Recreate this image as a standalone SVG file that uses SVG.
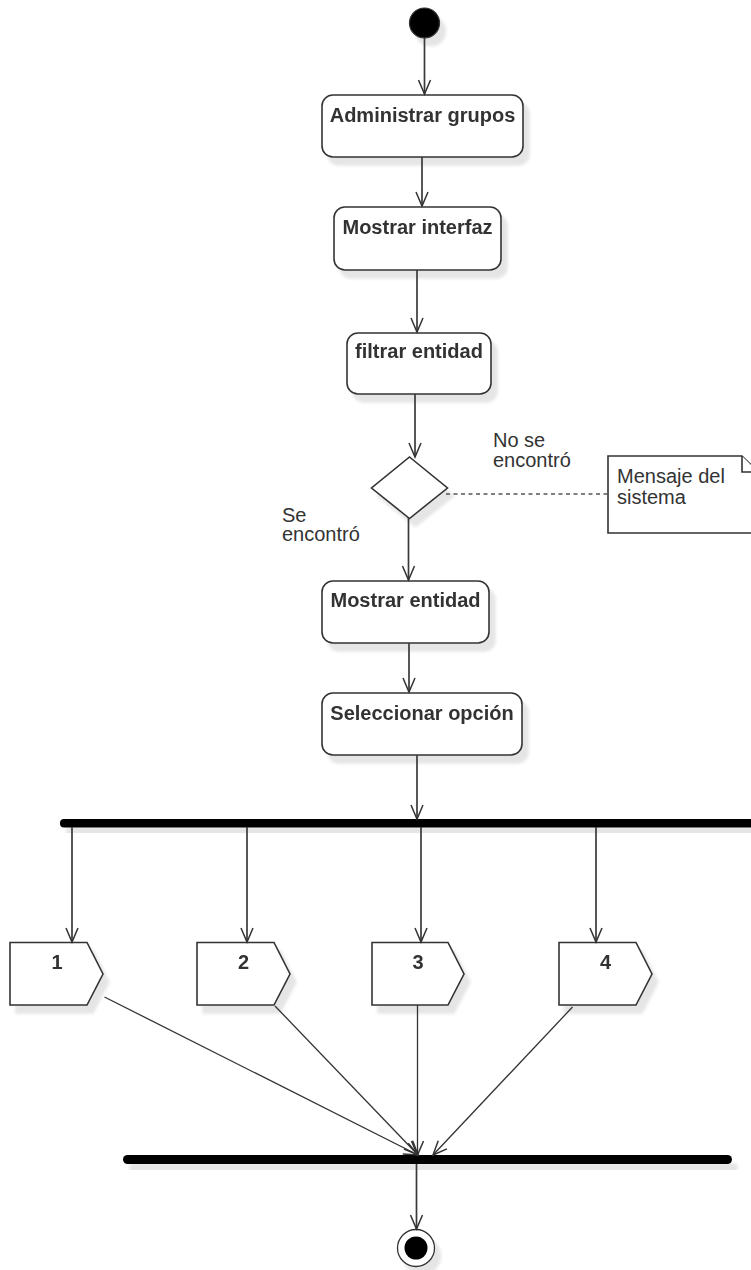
<svg xmlns="http://www.w3.org/2000/svg" width="751" height="1270" viewBox="0 0 751 1270">
  <style>
    .box { fill: #ffffff; stroke: #333333; stroke-width: 1.6; }
    .title { font-family: "Liberation Sans", Arial, sans-serif; font-size: 20px; font-weight: bold; fill: #333333; text-anchor: middle; }
    .label { font-family: "Liberation Sans", Arial, sans-serif; font-size: 20px; fill: #333333; }
    .flow { fill: none; stroke: #3a3a3a; stroke-width: 1.7; }
    .thin { fill: none; stroke: #333333; stroke-width: 1.3; }
    .bar { fill: #000000; }
  </style>
  <defs>
    <filter id="shadow" x="-20%" y="-20%" width="160%" height="180%">
      <feGaussianBlur in="SourceAlpha" stdDeviation="1.5" result="blur"/>
      <feOffset in="blur" dx="6" dy="8" result="off"/>
      <feFlood flood-color="#000000" flood-opacity="0.1"/>
      <feComposite in2="off" operator="in" result="shade"/>
      <feMerge>
        <feMergeNode in="shade"/>
        <feMergeNode in="SourceGraphic"/>
      </feMerge>
    </filter>
    <marker id="open" viewBox="-16 -8 18 16" refX="0" refY="0" markerWidth="18" markerHeight="16" markerUnits="userSpaceOnUse" orient="auto">
      <path d="M-14,-6 L0,0 L-14,6" fill="none" stroke="#333333" stroke-width="1.5"/>
    </marker>
  </defs>

  <!-- start -->
  <g id="start" filter="url(#shadow)">
    <circle cx="424.5" cy="23" r="15" fill="#000000" stroke="#333333" stroke-width="1.2"/>
  </g>

  <!-- actions -->
  <g id="administrar-grupos" filter="url(#shadow)">
    <rect class="box" x="322" y="95" width="201" height="62" rx="11"/>
    <text class="title" x="422.5" y="122">Administrar grupos</text>
  </g>
  <g id="mostrar-interfaz" filter="url(#shadow)">
    <rect class="box" x="334" y="207" width="167" height="63" rx="11"/>
    <text class="title" x="417.5" y="234">Mostrar interfaz</text>
  </g>
  <g id="filtrar-entidad" filter="url(#shadow)">
    <rect class="box" x="347" y="333" width="144" height="61" rx="11"/>
    <text class="title" x="419" y="358">filtrar entidad</text>
  </g>
  <g id="decision" filter="url(#shadow)">
    <polygon class="box" points="409.5,457 447.5,488 409.5,518.5 371.5,488"/>
  </g>
  <g id="mensaje-del-sistema">
    <path class="box" d="M608,456 H742 L758,472 V533 H608 Z"/>
    <path class="box" fill="none" d="M742,456 V472 H758"/>
    <text class="label" x="617" y="483">Mensaje del</text>
    <text class="label" x="617" y="503.5">sistema</text>
  </g>
  <g id="mostrar-entidad" filter="url(#shadow)">
    <rect class="box" x="322" y="581" width="167" height="62" rx="11"/>
    <text class="title" x="405.5" y="607">Mostrar entidad</text>
  </g>
  <g id="seleccionar-opcion" filter="url(#shadow)">
    <rect class="box" x="322" y="693" width="200" height="62" rx="11"/>
    <text class="title" x="422" y="720">Seleccionar opción</text>
  </g>

  <!-- fork and join bars -->
  <g id="fork" filter="url(#shadow)">
    <rect class="bar" x="60" y="819" width="710" height="8.5" rx="4"/>
  </g>
  <g id="join" filter="url(#shadow)">
    <rect class="bar" x="123" y="1155" width="609" height="9" rx="4.5"/>
  </g>

  <!-- option signals -->
  <g id="opcion-1" filter="url(#shadow)">
    <path class="box" d="M10,942.5 H87 L103,974 L87,1005 H10 Z"/>
    <text class="title" x="57" y="969">1</text>
  </g>
  <g id="opcion-2" filter="url(#shadow)">
    <path class="box" d="M197,942.5 H274 L290,974 L274,1005 H197 Z"/>
    <text class="title" x="243.5" y="969">2</text>
  </g>
  <g id="opcion-3" filter="url(#shadow)">
    <path class="box" d="M372,942.5 H448 L464,974 L448,1005 H372 Z"/>
    <text class="title" x="418" y="969">3</text>
  </g>
  <g id="opcion-4" filter="url(#shadow)">
    <path class="box" d="M559,942.5 H636 L652,974 L636,1005 H559 Z"/>
    <text class="title" x="605.5" y="969">4</text>
  </g>

  <!-- end -->
  <g id="end" filter="url(#shadow)">
    <circle cx="416" cy="1248" r="18.5" fill="#ffffff" stroke="#333333" stroke-width="1.3"/>
    <circle cx="416" cy="1248" r="11.5" fill="#000000"/>
  </g>

  <!-- connectors -->
  <g id="connectors">
    <line class="flow" x1="424.5" y1="38" x2="424.5" y2="94" marker-end="url(#open)"/>
    <line class="flow" x1="422" y1="157" x2="422" y2="206" marker-end="url(#open)"/>
    <line class="flow" x1="417" y1="270" x2="417" y2="332" marker-end="url(#open)"/>
    <line class="flow" x1="415" y1="394" x2="415" y2="457" marker-end="url(#open)"/>
    <line class="flow" x1="408.5" y1="518" x2="408.5" y2="580" marker-end="url(#open)"/>
    <line class="flow" x1="409" y1="643" x2="409" y2="692" marker-end="url(#open)"/>
    <line class="flow" x1="417" y1="755" x2="417" y2="819" marker-end="url(#open)"/>
    <line x1="446" y1="494" x2="608" y2="494" stroke="#555555" stroke-width="1.6" stroke-dasharray="4 3.5"/>

    <line class="flow" x1="72" y1="827" x2="72" y2="942" marker-end="url(#open)"/>
    <line class="flow" x1="247" y1="827" x2="247" y2="942" marker-end="url(#open)"/>
    <line class="flow" x1="421" y1="827" x2="421" y2="942" marker-end="url(#open)"/>
    <line class="flow" x1="596" y1="827" x2="596" y2="942" marker-end="url(#open)"/>

    <line class="thin" x1="104.5" y1="997" x2="418" y2="1155" marker-end="url(#open)"/>
    <line class="thin" x1="275" y1="1006" x2="418" y2="1155" marker-end="url(#open)"/>
    <line class="thin" x1="417.5" y1="1005" x2="417.5" y2="1155" marker-end="url(#open)"/>
    <line class="thin" x1="572.5" y1="1007" x2="433" y2="1155" marker-end="url(#open)"/>

    <line class="flow" x1="416.5" y1="1164" x2="416.5" y2="1229" marker-end="url(#open)"/>

    <text class="label" x="493" y="447">No se</text>
    <text class="label" x="493" y="466.5">encontró</text>
    <text class="label" x="282" y="521.5">Se</text>
    <text class="label" x="282" y="541">encontró</text>
  </g>
</svg>
